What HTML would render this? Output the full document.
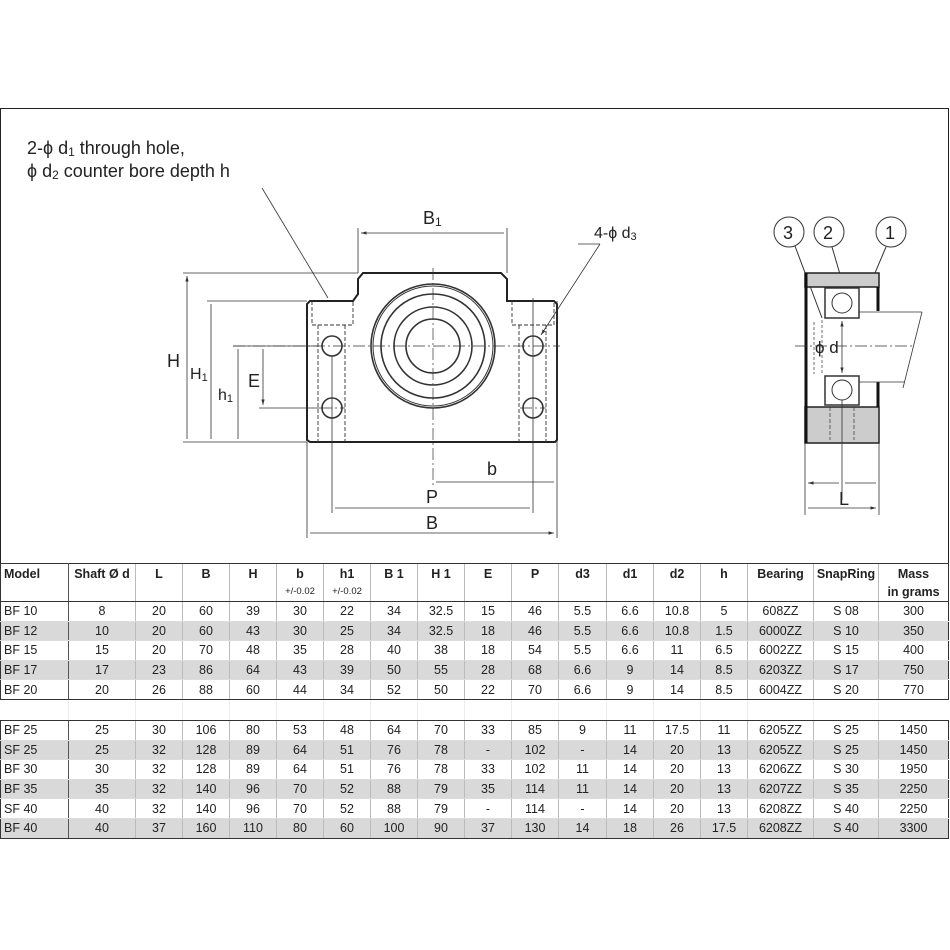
<!DOCTYPE html>
<html><head><meta charset="utf-8"><style>
body{margin:0;width:950px;height:950px;background:#fff;position:relative;overflow:hidden;font-family:"Liberation Sans",sans-serif}
svg{position:absolute;left:0;top:0}
table{position:absolute;left:0;top:563px;border-collapse:collapse;table-layout:fixed;width:948px;font-family:"Liberation Sans",sans-serif;font-size:12.5px;color:#222}
td{padding:0;text-align:center;border-left:1px solid #bbb;border-bottom:1px solid #ddd;white-space:nowrap;overflow:hidden;line-height:18px;height:18.6px}
td:first-child{text-align:left;padding-left:3px;border-left:1px solid #333;border-right:1px solid #555}
tr.h td{font-weight:bold;font-size:12.5px;border-top:1px solid #333;border-bottom:none;height:19px}
tr.s td{font-size:9.5px;border-bottom:1px solid #333;height:18px}
tr.g td{background:#d9d9d9}
tr.e td{border-bottom:1px solid #333}
tr.gap td{height:20px;border-bottom:1px solid #333;border-left:1px solid #eee}
td:last-child{border-right:1px solid #333}
</style></head><body>
<svg width="950" height="950" viewBox="0 0 950 950" font-family="Liberation Sans, sans-serif" fill="none" stroke="#333">
<defs><marker id="a" viewBox="0 0 10 10" refX="10" refY="5" markerWidth="7" markerHeight="7" orient="auto-start-reverse"><path d="M0,2 L10,5 L0,8 z" fill="#333" stroke="none"/></marker></defs>
<rect x="0.5" y="108.5" width="948" height="455" stroke="#222" stroke-width="1"/>
<g fill="#222" stroke="none" font-size="18">
<text x="27" y="154">2-ϕ d<tspan font-size="12" dy="2">1</tspan><tspan dy="-2"> through hole,</tspan></text>
<text x="27" y="177">ϕ d<tspan font-size="12" dy="2">2</tspan><tspan dy="-2"> counter bore depth h</tspan></text>
<text x="594" y="238" font-size="16">4-ϕ d<tspan font-size="11" dy="2">3</tspan></text>
<text x="423" y="224">B<tspan font-size="12" dy="2">1</tspan></text>
<text x="167" y="367">H</text>
<text x="190" y="379" font-size="16">H<tspan font-size="11" dy="2">1</tspan></text>
<text x="218" y="400" font-size="16">h<tspan font-size="11" dy="2">1</tspan></text>
<text x="248" y="387">E</text>
<text x="487" y="475">b</text>
<text x="426" y="503">P</text>
<text x="426" y="529">B</text>
<text x="815" y="353" font-size="17">ϕ d</text>
<text x="839" y="505">L</text>
<text x="783" y="239" font-size="18">3</text>
<text x="823" y="239" font-size="18">2</text>
<text x="885" y="239" font-size="18">1</text>
</g>
<path d="M262 188 L328 298" stroke-width="0.8"/>
<path d="M578 244 L600 244 M600 244 L541 335" stroke-width="0.8" marker-end="url(#a)"/>
<path d="M310 301 L353 301 L358 294 L358 279 L363 273 L501 273 L507 279 L507 301 L554 301 L557 304 L557 440 L555 442 L310 442 L307 440 L307 304 Z" stroke="#222" stroke-width="2"/>
<g stroke-width="0.9" stroke-dasharray="4 2">
<path d="M312 301 V325 H353 V301 M318 325 V442 M345 325 V442"/>
<path d="M512 301 V325 H554 V301 M519 325 V442 M546 325 V442"/>
</g>
<g stroke-width="1.6">
<circle cx="433" cy="346" r="62"/><circle cx="433" cy="346" r="60" stroke-width="1"/>
<circle cx="433" cy="346" r="52"/><circle cx="433" cy="346" r="39"/><circle cx="433" cy="346" r="27"/>
<circle cx="332" cy="346" r="10"/><circle cx="533" cy="346" r="10"/>
<circle cx="332" cy="408" r="10"/><circle cx="533" cy="408" r="10"/>
</g>
<g stroke-width="0.7" stroke-dasharray="12 3 2 3">
<path d="M433 268 V488 M233 346 H560 M320 408 H345 M520 408 H546"/>
</g>
<g stroke-width="0.8">
<path d="M183 273 H358 M207 301 H307 M233 346 H318 M259 408 H320 M183 442 H307"/>
<path d="M358 228 V273 M507 228 V273"/>
<path d="M307 442 V538 M557 301 V538 M332 356 V513 M533 298 V513"/>
<path d="M187 276 V439 M211 304 V439 M238 349 V439 M263 349 V405" marker-start="url(#a)" marker-end="url(#a)"/>
<path d="M361 233 H504 M436 482 H554 M335 508 H530 M310 533 H554" marker-start="url(#a)" marker-end="url(#a)"/>
</g>
<g stroke-width="1">
<circle cx="789" cy="232" r="15"/><circle cx="829" cy="232" r="15"/><circle cx="891" cy="232" r="15"/>
<path d="M795 246 L822 318 M832 247 L844 288 M886 247 L872 280"/>
<rect x="805" y="273" width="74" height="14" fill="#ccc" stroke="#222" stroke-width="1.5"/>
<rect x="805" y="407" width="74" height="36" fill="#ccc" stroke="#222" stroke-width="1.5"/>
<path d="M806 273 V443" stroke="#111" stroke-width="3"/>
<path d="M878 287 V311 M878 382 V407" stroke="#111" stroke-width="3"/>
<rect x="825" y="288" width="34" height="30" stroke-width="1.5"/>
<rect x="825" y="376" width="34" height="29" stroke-width="1.5"/>
<circle cx="842" cy="303" r="10"/><circle cx="842" cy="390" r="10"/>
<path d="M859 312 H922 M859 382 H905 M922 312 L903 388" stroke-width="0.8"/>
<path d="M842 321 V373" stroke-width="0.8" marker-start="url(#a)" marker-end="url(#a)"/>
<path d="M795 346 H915" stroke-width="0.7" stroke-dasharray="12 3 2 3"/>
<path d="M822 320 V375 M814 322 V374" stroke-width="0.7" stroke-dasharray="3 2"/>
<path d="M830 407 V440 M854 407 V440" stroke-width="0.7" stroke-dasharray="4 2"/>
<path d="M842 400 V500 M805 443 V515 M879 443 V515" stroke-width="0.8"/>
<path d="M808 483 H839 M845 483 H876 M808 508 H876" stroke-width="0.8" marker-start="url(#a)" marker-end="url(#a)"/>
</g>
</svg>
<table>
<colgroup><col style="width:68px"><col style="width:67px"><col style="width:47px"><col style="width:47px"><col style="width:47px"><col style="width:47px"><col style="width:47px"><col style="width:47px"><col style="width:47px"><col style="width:47px"><col style="width:47px"><col style="width:48px"><col style="width:47px"><col style="width:47px"><col style="width:47px"><col style="width:66px"><col style="width:65px"><col style="width:70px"></colgroup>
<tr class="h"><td>Model</td><td>Shaft Ø d</td><td>L</td><td>B</td><td>H</td><td>b</td><td>h1</td><td>B 1</td><td>H 1</td><td>E</td><td>P</td><td>d3</td><td>d1</td><td>d2</td><td>h</td><td>Bearing</td><td>SnapRing</td><td>Mass</td></tr>
<tr class="s"><td></td><td></td><td></td><td></td><td></td><td>+/-0.02</td><td>+/-0.02</td><td></td><td></td><td></td><td></td><td></td><td></td><td></td><td></td><td></td><td></td><td style="font-size:12.5px;font-weight:bold">in grams</td></tr>
<tr><td>BF 10</td><td>8</td><td>20</td><td>60</td><td>39</td><td>30</td><td>22</td><td>34</td><td>32.5</td><td>15</td><td>46</td><td>5.5</td><td>6.6</td><td>10.8</td><td>5</td><td>608ZZ</td><td>S 08</td><td>300</td></tr>
<tr class="g"><td>BF 12</td><td>10</td><td>20</td><td>60</td><td>43</td><td>30</td><td>25</td><td>34</td><td>32.5</td><td>18</td><td>46</td><td>5.5</td><td>6.6</td><td>10.8</td><td>1.5</td><td>6000ZZ</td><td>S 10</td><td>350</td></tr>
<tr><td>BF 15</td><td>15</td><td>20</td><td>70</td><td>48</td><td>35</td><td>28</td><td>40</td><td>38</td><td>18</td><td>54</td><td>5.5</td><td>6.6</td><td>11</td><td>6.5</td><td>6002ZZ</td><td>S 15</td><td>400</td></tr>
<tr class="g"><td>BF 17</td><td>17</td><td>23</td><td>86</td><td>64</td><td>43</td><td>39</td><td>50</td><td>55</td><td>28</td><td>68</td><td>6.6</td><td>9</td><td>14</td><td>8.5</td><td>6203ZZ</td><td>S 17</td><td>750</td></tr>
<tr class="e"><td>BF 20</td><td>20</td><td>26</td><td>88</td><td>60</td><td>44</td><td>34</td><td>52</td><td>50</td><td>22</td><td>70</td><td>6.6</td><td>9</td><td>14</td><td>8.5</td><td>6004ZZ</td><td>S 20</td><td>770</td></tr>
<tr class="gap"><td style="border-left:none;border-right:1px solid #eee"></td><td></td><td></td><td></td><td></td><td></td><td></td><td></td><td></td><td></td><td></td><td></td><td></td><td></td><td></td><td></td><td></td><td style="border-right:none"></td></tr>
<tr><td>BF 25</td><td>25</td><td>30</td><td>106</td><td>80</td><td>53</td><td>48</td><td>64</td><td>70</td><td>33</td><td>85</td><td>9</td><td>11</td><td>17.5</td><td>11</td><td>6205ZZ</td><td>S 25</td><td>1450</td></tr>
<tr class="g"><td>SF 25</td><td>25</td><td>32</td><td>128</td><td>89</td><td>64</td><td>51</td><td>76</td><td>78</td><td>-</td><td>102</td><td>-</td><td>14</td><td>20</td><td>13</td><td>6205ZZ</td><td>S 25</td><td>1450</td></tr>
<tr><td>BF 30</td><td>30</td><td>32</td><td>128</td><td>89</td><td>64</td><td>51</td><td>76</td><td>78</td><td>33</td><td>102</td><td>11</td><td>14</td><td>20</td><td>13</td><td>6206ZZ</td><td>S 30</td><td>1950</td></tr>
<tr class="g"><td>BF 35</td><td>35</td><td>32</td><td>140</td><td>96</td><td>70</td><td>52</td><td>88</td><td>79</td><td>35</td><td>114</td><td>11</td><td>14</td><td>20</td><td>13</td><td>6207ZZ</td><td>S 35</td><td>2250</td></tr>
<tr><td>SF 40</td><td>40</td><td>32</td><td>140</td><td>96</td><td>70</td><td>52</td><td>88</td><td>79</td><td>-</td><td>114</td><td>-</td><td>14</td><td>20</td><td>13</td><td>6208ZZ</td><td>S 40</td><td>2250</td></tr>
<tr class="g e"><td>BF 40</td><td>40</td><td>37</td><td>160</td><td>110</td><td>80</td><td>60</td><td>100</td><td>90</td><td>37</td><td>130</td><td>14</td><td>18</td><td>26</td><td>17.5</td><td>6208ZZ</td><td>S 40</td><td>3300</td></tr>
</table>
</body></html>
